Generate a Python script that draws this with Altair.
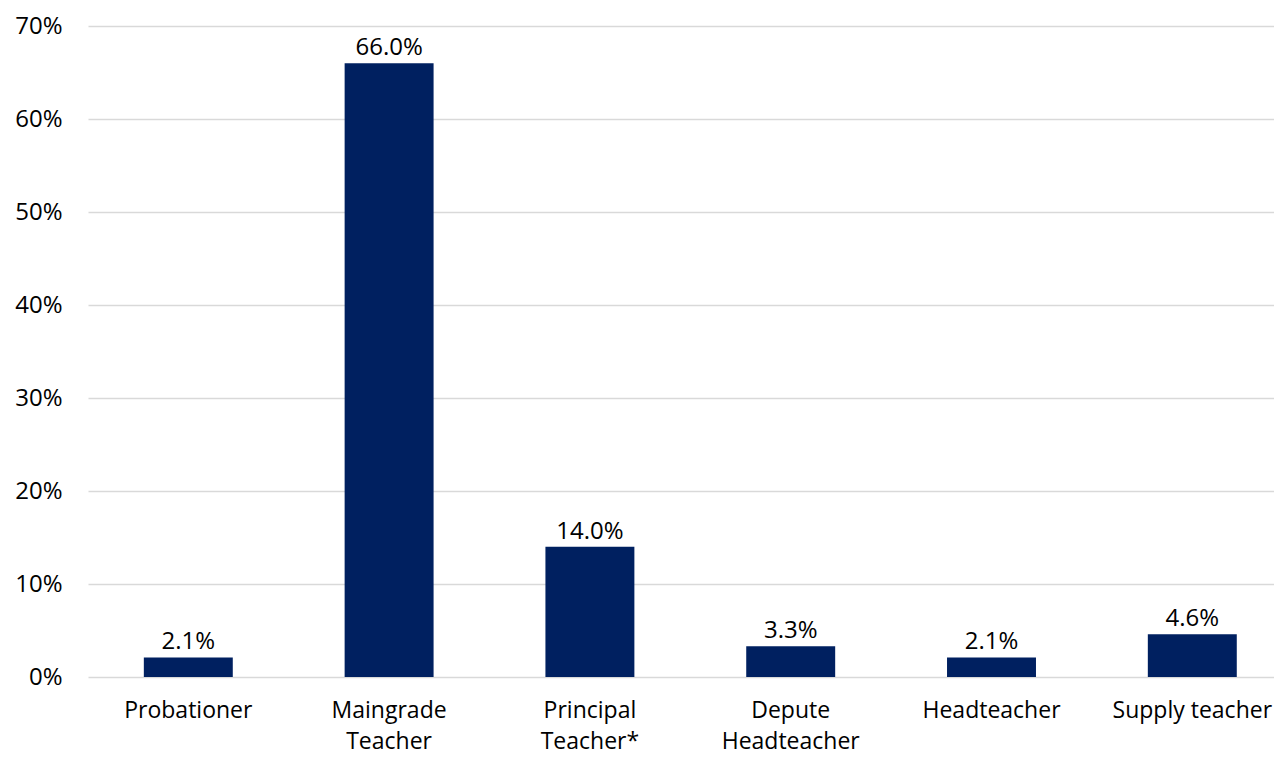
import altair as alt
import pandas as pd

categories = ["Probationer", "Maingrade|Teacher", "Principal|Teacher*", "Depute|Headteacher", "Headteacher", "Supply teacher"]
values = [0.021, 0.660, 0.140, 0.033, 0.021, 0.046]
y_ticks = [0, 0.1, 0.2, 0.3, 0.4, 0.5, 0.6, 0.7]

df = pd.DataFrame({"cat": categories, "val": values})

FONT = "Open Sans"
FS = 24
x = alt.X("cat:N", sort=categories, title=None,
          scale=alt.Scale(paddingInner=0.557, paddingOuter=0.2317, align=0.6),
          axis=alt.Axis(labelAngle=0, labelExpr="split(datum.label, '|')",
                        labelFontSize=23, labelFont=FONT, labelColor="#000000",
                        labelLineHeight=31, labelPadding=22, ticks=False, domain=False,
                        labelBaseline="top"))
y = alt.Y("val:Q", title=None,
          scale=alt.Scale(domain=[0, 0.7], nice=False),
          axis=alt.Axis(values=y_ticks, format=".0%", labelFontSize=FS, labelFont=FONT,
                        labelColor="#000000", labelPadding=26, ticks=False, domain=False,
                        gridColor="#d9d9d9", gridWidth=1.5))

bars = alt.Chart(df).mark_bar(color="#002060").encode(x=x, y=y)
labels = alt.Chart(df).mark_text(baseline="alphabetic", dy=-8, fontSize=FS, font=FONT, color="#000000").encode(
    x=alt.X("cat:N", sort=categories), y="val:Q", text=alt.Text("val:Q", format=".1%"))

chart = (bars + labels).properties(
    width=1186, height=651,
    autosize=alt.AutoSizeParams(type="none"),
    padding={"left": 80, "top": 18, "right": 0, "bottom": 80},
).configure_view(stroke=None)

chart.save("out.html", embed_options={"renderer": "svg", "actions": False})
